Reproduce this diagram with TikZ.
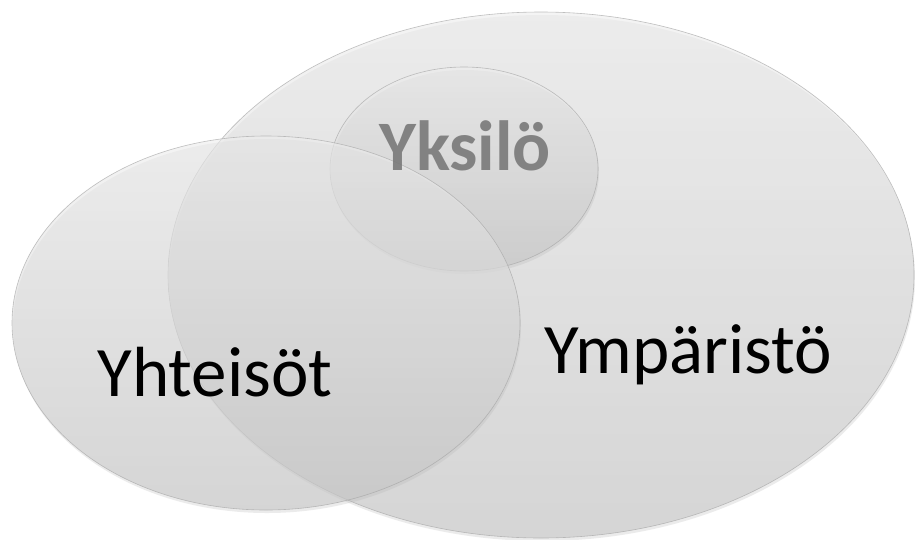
\documentclass[tikz,border=0pt]{standalone}
\usepackage{fontspec}
\setmainfont{Carlito}
\usetikzlibrary{shapes.geometric,shadows}
\begin{document}
\begin{tikzpicture}[x=1pt,y=-1pt,
  bubble/.style={ellipse, inner sep=0pt, draw=gray!70, line width=0.6pt,
    top color=gray!14, bottom color=gray!44, fill opacity=0.6, draw opacity=0.7,
    general shadow={shadow yshift=-3pt, shadow xshift=1pt, fill=gray!60, opacity=0.25}},
  lbl/.style={font=\fontsize{71}{80}\selectfont, text=black, inner sep=0pt},
  toplbl/.style={inner sep=0pt, font=\bfseries\fontsize{71}{80}\selectfont, text=gray!95!black, text opacity=0.9}
]
\useasboundingbox[fill=white] (0,0) rectangle (915,539);
% big ellipse (Ympäristö)
\node[bubble, minimum width=746pt, minimum height=526pt] (big) at (541,275) {};
% small ellipse (Yksilö)
\node[bubble, minimum width=268pt, minimum height=204pt] (small) at (464,169) {};
% left ellipse (Yhteisöt)
\node[bubble, minimum width=508pt, minimum height=374pt] (left) at (266,323) {};
% texts
\node[toplbl] (tsmall) at (465,146) {Yksilö};
\node[lbl] (tleft) at (215,372) {Yhteisöt};
\node[lbl] (tbig) at (688,355) {Ympäristö};
\end{tikzpicture}
\end{document}
